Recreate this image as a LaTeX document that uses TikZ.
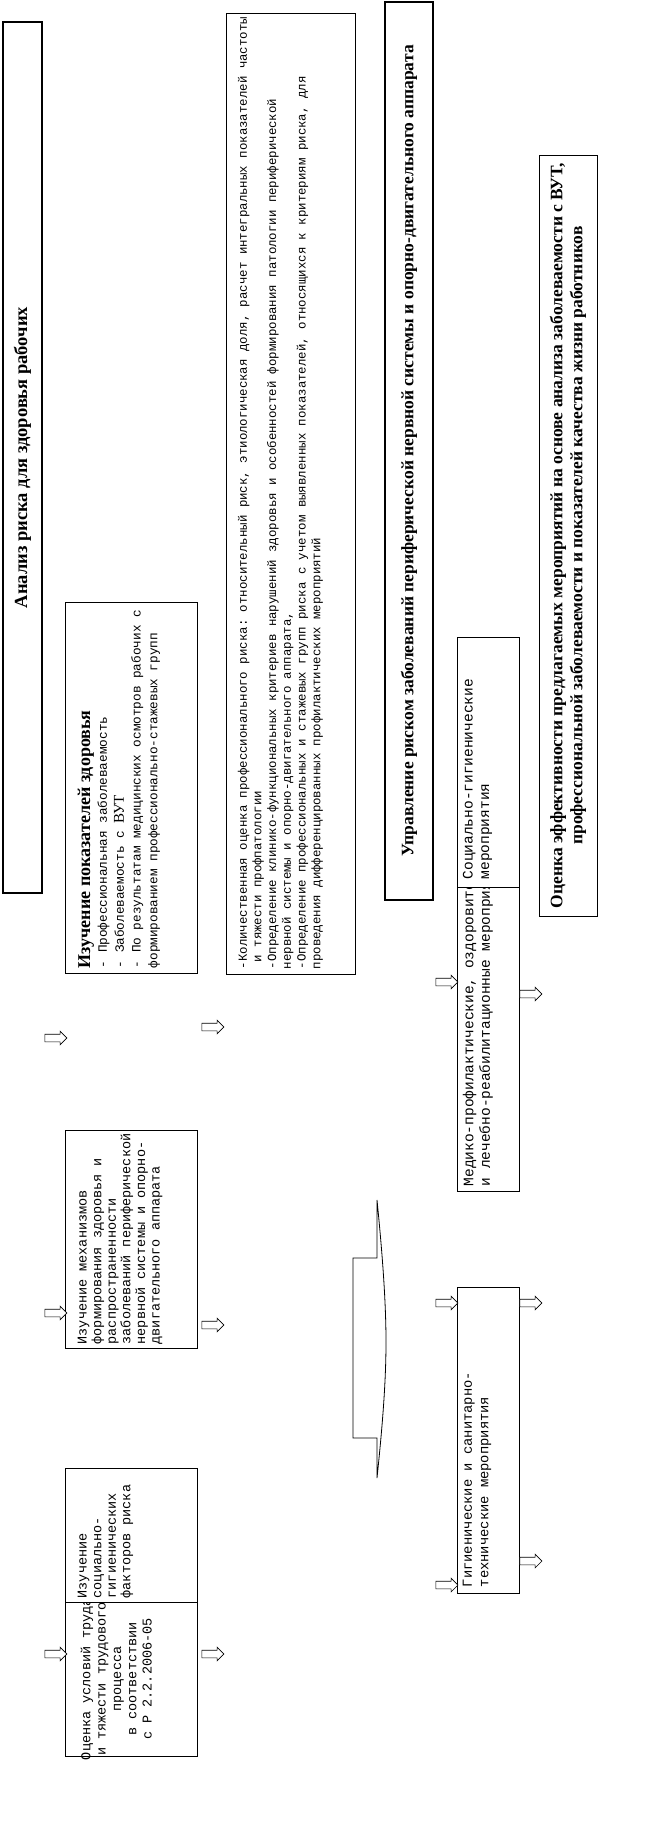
\documentclass[tikz,border=0pt]{standalone}
\usepackage{fontspec}
\setmainfont{Liberation Serif}
\setmonofont{Liberation Mono}
\usetikzlibrary{shapes.arrows,calc}
\tikzset{
    box/.style = {draw, rectangle, fill=white, line width=0.8pt,
        inner sep=0pt, rotate=90},
    thickbox/.style = {box, line width=2.8pt},
    bodytext/.style = {inner sep=0pt, rotate=90, align=left,
        font=\ttfamily\fontsize{12.4}{14.7}\selectfont},
    bigtext/.style = {bodytext, font=\ttfamily\fontsize{14.5}{16.5}\selectfont},
    titletext/.style = {inner sep=0pt, rotate=90, align=center,
        font=\rmfamily\bfseries\fontsize{17.5}{20}\selectfont},
    blockarrow/.style = {single arrow, draw, fill=white, line width=0.6pt,
        minimum height=22pt, minimum width=0pt, inner xsep=0pt, inner ysep=3.5pt,
        text height=0pt, text depth=0pt, single arrow head extend=3pt}
}
\begin{document}
\begin{tikzpicture}[x=1pt,y=-1pt]
    \useasboundingbox (0,0) rectangle (667,1824);
    % first column
    \node[thickbox, minimum width=871pt, minimum height=39pt] (a) at (22.5,457.5) {};
    \node[titletext, font=\rmfamily\bfseries\fontsize{18.5}{20}\selectfont] (atext) at (a)
        {Анализ риска для здоровья рабочих};
    \node[box, minimum width=371pt, minimum height=132pt] (b) at (131,787.5) {};
    \node[bodytext, anchor=north west, font=\ttfamily\fontsize{12.7}{16.8}\selectfont]
        (btext) at ($(b.north west)+(13,-5)$)
        {{\rmfamily\bfseries\fontsize{18}{20}\selectfont Изучение показателей здоровья}\\
        - Профессиональная заболеваемость\\
        - Заболеваемость с {\rmfamily\fontsize{15}{15}\selectfont ВУТ}\\
        - По результатам медицинских осмотров рабочих с\\
        формированием профессионально-стажевых групп};
    \node[box, minimum width=218pt, minimum height=132pt] (c) at (131,1239) {};
    \node[bodytext, anchor=north west, font=\ttfamily\fontsize{13.5}{14.6}\selectfont]
        (ctext) at ($(c.north west)+(13,-4)$)
        {Изучение механизмов\\
        формирования здоровья и\\
        распространенности\\
        заболеваний периферической\\
        нервной системы и опорно-\\
        двигательного аппарата};
    \node[box, minimum width=154pt, minimum height=132pt] (e) at (131,1679) {};
    \node[bodytext, align=center, anchor=north, font=\ttfamily\fontsize{13.5}{15.3}\selectfont]
        (etext) at ($(e.north)+(16,0)$)
        {Оценка условий труда\\
        и тяжести трудового\\
        процесса\\
        в соответствии\\
        с Р 2.2.2006-05};
    \node[box, minimum width=134pt, minimum height=132pt] (d) at (131,1535) {};
    \node[bodytext, anchor=north west, font=\ttfamily\fontsize{13.5}{14.6}\selectfont]
        (dtext) at ($(d.north west)+(13,-4)$)
        {Изучение\\
        социально-\\
        гигиенических\\
        факторов риска};
    % second column
    \node[box, minimum width=961pt, minimum height=129pt] (f) at (290.5,493.5) {};
    \node[bodytext, anchor=north west] (ftext) at ($(f.north west)+(12,-5)$)
        {-Количественная оценка профессионального риска: относительный риск, этиологическая доля,  расчет интегральных показателей частоты\\
        \hspace*{7pt}и тяжести профпатологии\\
        -Определение клинико-функциональных критериев нарушений здоровья  и особенностей формирования патологии периферической\\
        нервной системы и опорно-двигательного аппарата,\\
        -Определение профессиональных и стажевых групп риска с учетом выявленных показателей, относящихся к критериям риска, для\\
        проведения дифференцированных профилактических мероприятий};
    \node[thickbox, minimum width=898pt, minimum height=48pt] (g) at (409,451) {};
    \node[titletext] (gtext) at (g)
        {Управление риском заболеваний периферической нервной системы и опорно-двигательного аппарата};
    % measures
    \node[box, minimum width=304pt, minimum height=62pt] (i) at (488,1039) {};
    \node[bigtext, anchor=north west] (itext) at ($(i.north west)+(6,-5)$)
        {Медико-профилактические, оздоровительные\\
        и лечебно-реабилитационные мероприятия};
    \node[box, minimum width=250pt, minimum height=62pt] (h) at (488,762) {};
    \node[bigtext, anchor=north west] (htext) at ($(h.north west)+(6,-8)$)
        {Социально-гигиенические\\
        мероприятия};
    \node[box, minimum width=306pt, minimum height=62pt] (j) at (488,1440) {};
    \node[bigtext, anchor=north west, font=\ttfamily\fontsize{13.8}{16.5}\selectfont]
        (jtext) at ($(j.north west)+(6,-6)$)
        {Гигиенические и санитарно-\\
        технические мероприятия};
    \node[box, minimum width=761pt, minimum height=58pt] (l) at (568,535.5) {};
    \node[titletext, font=\rmfamily\bfseries\fontsize{17.5}{20}\selectfont] (ltext) at (l)
        {Оценка эффективности предлагаемых мероприятий на основе анализа заболеваемости с ВУТ,\\
        профессиональной заболеваемости и показателей качества жизни работников};
    % big arrow
    \draw[line width=0.8pt, fill=white] (353,1258) -- (377,1258) -- (377,1200)
        .. controls (382,1250) and (386,1300) .. (386,1342)
        .. controls (386,1384) and (382,1430) .. (377,1478)
        -- (377,1438) -- (353,1438) -- cycle;
    % small arrows
    \node[blockarrow] (p1) at (54,1038) {};
    \node[blockarrow] (p2) at (54,1313) {};
    \node[blockarrow] (p3) at (54,1654) {};
    \node[blockarrow] (q1) at (211,1027) {};
    \node[blockarrow] (q2) at (211,1325) {};
    \node[blockarrow] (q3) at (211,1654) {};
    \node[blockarrow] (r1) at (445,982) {};
    \node[blockarrow] (r2) at (445,1303) {};
    \node[blockarrow] (r3) at (445,1585) {};
    \node[blockarrow] (s1) at (529,994) {};
    \node[blockarrow] (s2) at (529,1303) {};
    \node[blockarrow] (s3) at (529,1561) {};
\end{tikzpicture}
\end{document}
